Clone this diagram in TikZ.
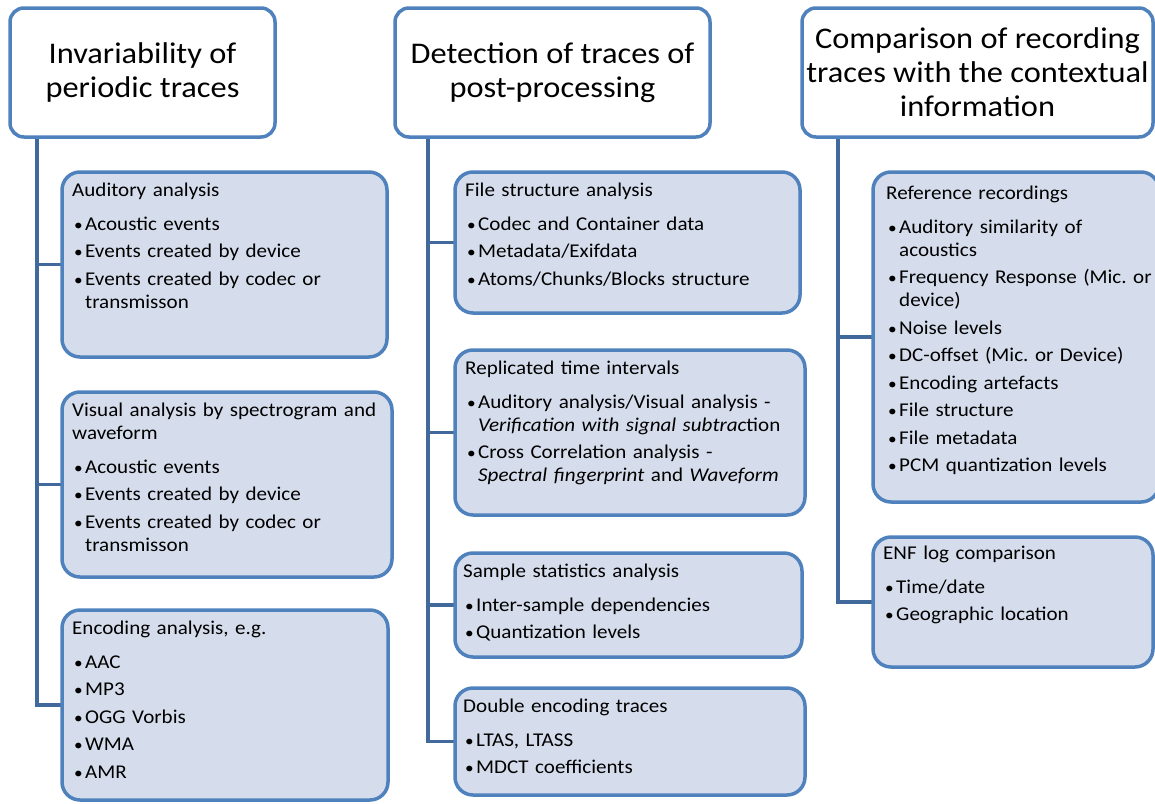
\documentclass[tikz,border=0pt]{standalone}
\usepackage{fontspec}
\setmainfont{Carlito}[FakeStretch=1.08]
\usetikzlibrary{calc,backgrounds}
\definecolor{bord}{HTML}{4F81BD}
\definecolor{subfill}{HTML}{D5DCEB}
\definecolor{conncol}{HTML}{41699C}
\frenchspacing
\newcommand\hdr[1]{\strut #1\par\vspace{6.5pt}}
\newcommand\bitem[1]{\par\vspace{4.5pt}\hangindent=13pt\hangafter=1\noindent\makebox[13pt][l]{\hspace{2pt}{\fontsize{16}{16}\selectfont\textbullet}}#1\par}
\begin{document}
\begin{tikzpicture}[x=1pt,y=-1pt,
  titlebox/.style={draw=bord, line width=3.5pt, rounded corners=14pt, fill=white, align=center,
    font=\fontsize{30}{34}\selectfont, inner sep=0pt, outer sep=0pt},
  subbox/.style={draw=bord, line width=3.5pt, rounded corners=18pt, fill=subfill, anchor=north west,
    inner sep=0pt, outer sep=0pt},
  subtxt/.style={anchor=north west, inner sep=0pt, text width=340pt, font=\fontsize{19.5}{23}\selectfont},
  conn/.style={draw=conncol, line width=3.5pt}]
\useasboundingbox (0,0) rectangle (1155,803);

% titles
\node[titlebox, minimum width=265pt, minimum height=129pt] (t1) at (142.5,72.5) {Invariability of\\periodic traces};
\node[titlebox, minimum width=315pt, minimum height=129pt] (t2) at (552.5,72.5) {Detection of traces of\\post-processing};
\node[titlebox, minimum width=351pt, minimum height=129pt] (t3) at (977.5,72.5) {Comparison of recording\\traces with the contextual\\information};

% column 1
\node[subbox, minimum width=325pt, minimum height=185pt] (aud) at (62,172) {};
\node[subbox, minimum width=330pt, minimum height=185pt] (vis) at (62,392) {};
\node[subbox, minimum width=326pt, minimum height=190pt] (enc) at (62,610) {};
% column 2
\node[subbox, minimum width=345pt, minimum height=141pt] (fsa) at (455,172) {};
\node[subbox, minimum width=350pt, minimum height=165pt] (rep) at (455,350) {};
\node[subbox, minimum width=347pt, minimum height=104pt] (sam) at (455,553) {};
\node[subbox, minimum width=350pt, minimum height=107pt] (dbl) at (455,688) {};
% column 3
\node[subbox, minimum width=286pt, minimum height=330pt] (ref) at (873,172) {};
\node[subbox, minimum width=280pt, minimum height=130pt] (enf) at (873,537) {};

% texts
\node[subtxt] (aud-t) at ($(aud.north west)+(10,8)$) {\hdr{Auditory analysis}%
  \bitem{Acoustic events}\bitem{Events created by device}\bitem{Events created by codec or\newline transmisson}};
\node[subtxt] (vis-t) at ($(vis.north west)+(10,8)$) {\strut Visual analysis by spectrogram and\newline waveform\par\vspace{6.5pt}%
  \bitem{Acoustic events}\bitem{Events created by device}\bitem{Events created by codec or\newline transmisson}};
\node[subtxt] (enc-t) at ($(enc.north west)+(10,8)$) {\hdr{Encoding analysis, e.g.}%
  \bitem{AAC}\bitem{MP3}\bitem{OGG Vorbis}\bitem{WMA}\bitem{AMR}};

\node[subtxt] (fsa-t) at ($(fsa.north west)+(10,8)$) {\hdr{File structure analysis}%
  \bitem{Codec and Container data}\bitem{Metadata/Exifdata}\bitem{Atoms/Chunks/Blocks structure}};
\node[subtxt] (rep-t) at ($(rep.north west)+(10,8)$) {\hdr{Replicated time intervals}%
  \bitem{Auditory analysis/Visual analysis -\newline \textit{Verification with signal subtrac}tion}%
  \bitem{Cross Correlation analysis -\newline \textit{Spectral fingerprint} and \textit{Waveform}}};
\node[subtxt] (sam-t) at ($(sam.north west)+(8,8)$) {\hdr{Sample statistics analysis}%
  \bitem{Inter-sample dependencies}\bitem{Quantization levels}};
\node[subtxt] (dbl-t) at ($(dbl.north west)+(8,8)$) {\hdr{Double encoding traces}%
  \bitem{LTAS, LTASS}\bitem{MDCT coefficients}};

\node[subtxt] (ref-t) at ($(ref.north west)+(13,11)$) {\hdr{Reference recordings}%
  \bitem{Auditory similarity of\newline acoustics}\bitem{Frequency Response (Mic. or\newline device)}%
  \bitem{Noise levels}\bitem{DC-offset (Mic. or Device)}\bitem{Encoding artefacts}%
  \bitem{File structure}\bitem{File metadata}\bitem{PCM quantization levels}};
\node[subtxt] (enf-t) at ($(enf.north west)+(10,6)$) {\hdr{ENF log comparison}%
  \bitem{Time/date}\bitem{Geographic location}};

% connectors
\begin{scope}[on background layer]
\coordinate (c1) at (37,137);
\coordinate (c2) at (428,137);
\coordinate (c3) at (838,137);
\draw[conn] (c1) |- (enc.west);
\draw[conn] (aud.west -| c1) -- (aud.west);
\draw[conn] (vis.west -| c1) -- (vis.west);
\draw[conn] (c2) |- (dbl.west);
\draw[conn] (fsa.west -| c2) -- (fsa.west);
\draw[conn] (rep.west -| c2) -- (rep.west);
\draw[conn] (sam.west -| c2) -- (sam.west);
\draw[conn] (c3) |- (enf.west);
\draw[conn] (ref.west -| c3) -- (ref.west);
\end{scope}
\end{tikzpicture}
\end{document}
